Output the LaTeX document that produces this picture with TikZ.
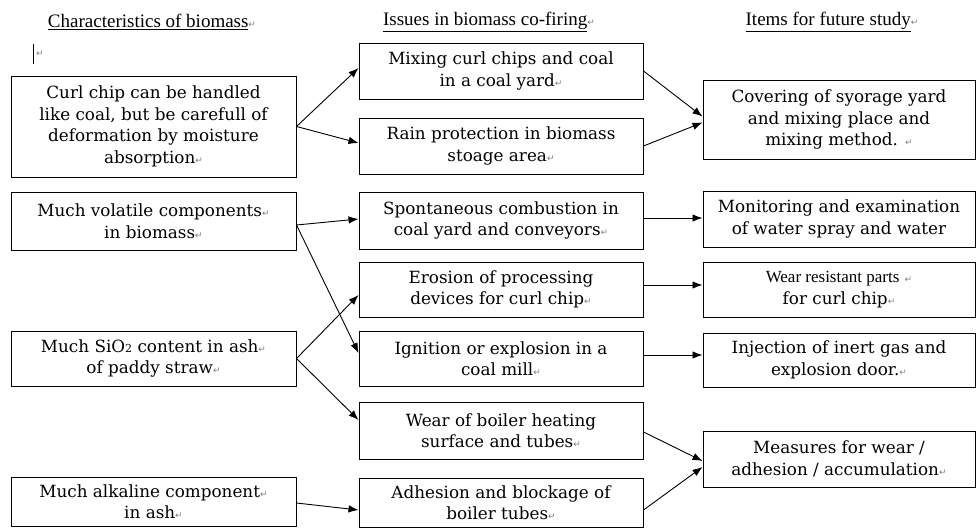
\documentclass[tikz,border=0pt]{standalone}
\usepackage{fontspec}
\usetikzlibrary{arrows.meta}
\setmainfont{DejaVu Serif}
\newfontfamily\headfont{Liberation Serif}
\newfontfamily\markfont{DejaVu Sans}
\newcommand\retmark{{\markfont\color{gray}\fontsize{9}{9}\selectfont ↵}}
\tikzset{
  box/.style={draw, line width=1pt, inner sep=0pt, align=center,
    font=\fontsize{16.8}{21.5}\selectfont},
  colA/.style={box, minimum width=285pt},
  colB/.style={box, minimum width=284pt},
  colC/.style={box, minimum width=272pt},
  head/.style={inner sep=0pt, font=\headfont\fontsize{19}{21}\selectfont},
  arr/.style={line width=0.9pt, -{Latex[length=10pt,width=7.5pt]}}
}
\begin{document}
\begin{tikzpicture}[x=1pt,y=-1pt]
\useasboundingbox (0,0) rectangle (977,528);
% headings
\node[head] (h1) at (152,22) {\underline{Characteristics of biomass}\retmark};
\node[head] (h2) at (489,22) {\underline{Issues in biomass co-firing}\retmark};
\node[head] (h3) at (832,22) {\underline{Items for future study}\retmark};
\node[inner sep=0pt] (cur) at (40,54) {\retmark};
\draw[line width=0.7pt] (cur.west) ++(-3,-10) -- ++(0,20);
% column A
\node[colA, minimum height=101pt] (A1) at (153.5,126.5) {Curl chip can be handled\\like coal, but be carefull of\\deformation by moisture\\absorption\retmark};
\node[colA, minimum height=58pt] (A2) at (153.5,221) {Much volatile components\retmark\\in biomass\retmark};
\node[colA, minimum height=55pt] (A3) at (153.5,358.5) {Much SiO{\fontsize{11}{11}\selectfont 2} content in ash\retmark\\of paddy straw\retmark};
\node[colA, minimum height=49pt] (A4) at (153.5,501.5) {Much alkaline component\retmark\\in ash\retmark};
% column B
\node[colB, minimum height=56pt] (B1) at (501,71) {Mixing curl chips and coal\\in a coal yard\retmark};
\node[colB, minimum height=56pt] (B2) at (501,146) {Rain protection in biomass\\stoage area\retmark};
\node[colB, minimum height=57pt] (B3) at (501,220.5) {Spontaneous combustion in\\coal yard and conveyors\retmark};
\node[colB, minimum height=55pt] (B4) at (501,289.5) {Erosion of processing\\devices for curl chip\retmark};
\node[colB, minimum height=55pt] (B5) at (501,358.5) {Ignition or explosion in a\\coal mill\retmark};
\node[colB, minimum height=57pt] (B6) at (501,430.5) {Wear of boiler heating\\surface and tubes\retmark};
\node[colB, minimum height=49pt] (B7) at (501,502.5) {Adhesion and blockage of\\boiler tubes\retmark};
% column C
\node[colC, minimum height=79pt] (C1) at (839,119.5) {Covering of syorage yard\\and mixing place and\\mixing method. \retmark};
\node[colC, minimum height=56pt] (C2) at (839,219) {Monitoring and examination\\of water spray and water};
\node[colC, minimum height=55pt] (C3) at (839,289.5) {{\headfont\fontsize{17}{19}\selectfont Wear resistant parts} \retmark\\for curl chip\retmark};
\node[colC, minimum height=54pt] (C4) at (839,360) {Injection of inert gas and\\explosion door.\retmark};
\node[colC, minimum height=56pt] (C5) at (839,459) {Measures for wear /\\adhesion / accumulation\retmark};
% connectors
\draw[arr] (A1.east) -- ([yshift=3pt]B1.west);
\draw[arr] (A1.east) -- ([yshift=3pt]B2.west);
\draw[arr] (B1.east) -- ([yshift=3pt]C1.west);
\draw[arr] (B2.east) -- ([yshift=-3pt]C1.west);
\draw[arr] ([yshift=-4pt]A2.east) -- ([yshift=1.5pt]B3.west);
\draw[arr] ([yshift=-4pt]A2.east) -- ([yshift=5.5pt]B5.west);
\draw[arr] (A3.east) -- ([yshift=-5.5pt]B4.west);
\draw[arr] (A3.east) -- ([yshift=10.5pt]B6.west);
\draw[arr] ([yshift=-1.5pt]A4.east) -- ([yshift=-7.5pt]B7.west);
\draw[arr] ([yshift=2.5pt]B3.east) -- ([yshift=1pt]C2.west);
\draw[arr] ([yshift=4.5pt]B4.east) -- ([yshift=4.5pt]C3.west);
\draw[arr] ([yshift=3.5pt]B5.east) -- ([yshift=5pt]C4.west);
\draw[arr] ([yshift=-1.5pt]B6.east) -- ([yshift=-2pt]C5.west);
\draw[arr] ([yshift=-7.5pt]B7.east) -- ([yshift=-8pt]C5.west);
\end{tikzpicture}
\end{document}
